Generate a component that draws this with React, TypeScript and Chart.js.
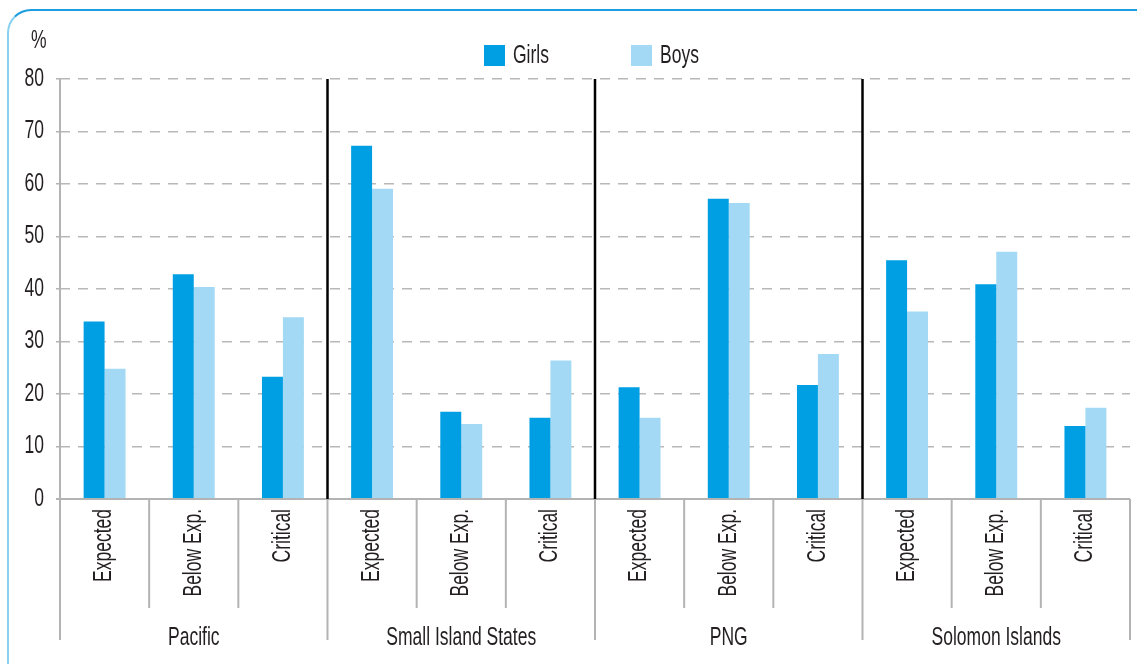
import React, { useEffect, useRef } from "react";
import { Chart, registerables } from "chart.js";

Chart.register(...registerables);

const groups = ["Pacific", "Small Island States", "PNG", "Solomon Islands"];
const levels = ["Expected", "Below Exp.", "Critical"];
const categories = groups.flatMap((g) => levels.map((l) => `${g}|${l}`));
const girls = [33.8, 42.8, 23.3, 67.3, 16.6, 15.5, 21.3, 57.2, 21.7, 45.5, 40.9, 13.9];
const boys = [24.8, 40.4, 34.6, 59.1, 14.3, 26.4, 15.5, 56.4, 27.6, 35.7, 47.1, 17.4];
const yTicks = [0, 10, 20, 30, 40, 50, 60, 70, 80];
const seriesNames = ["Girls", "Boys"];
const seriesColors = ["#009fe3", "#a3d9f5"];

const FONT = '"Liberation Sans", Arial, sans-serif';
const FSIZE = 25;
const SX = 0.7;
const TEXT = "#231f20";
const GRAY = "#b3b3b3";

function drawText(ctx: any, text: string, x: number, y: number, align: string, rotate = false) {
  ctx.save();
  ctx.translate(x, y);
  if (rotate) ctx.rotate(-Math.PI / 2);
  ctx.scale(SX, 1);
  ctx.font = `${FSIZE}px ${FONT}`;
  ctx.fillStyle = TEXT;
  ctx.textAlign = align;
  ctx.textBaseline = "middle";
  ctx.fillText(text, 0, 0);
  ctx.restore();
}

const overlay = {
  id: "overlay",
  afterDraw(chart: any) {
    const ctx = chart.ctx;
    const xs = chart.scales.x;
    const ys = chart.scales.y;
    const area = chart.chartArea;
    const y0 = ys.getPixelForValue(0);
    const n = categories.length;
    const step = xs.getPixelForValue(1) - xs.getPixelForValue(0);
    const boundary = (i: number) => xs.getPixelForValue(i) - step / 2;
    ctx.save();
    ctx.strokeStyle = GRAY;
    ctx.lineWidth = 2;
    ctx.beginPath();
    ctx.moveTo(area.left - 4, y0);
    ctx.lineTo(area.right, y0);
    ctx.moveTo(area.left, area.top);
    ctx.lineTo(area.left, y0);
    ctx.stroke();
    for (let i = 0; i <= n; i++) {
      const x = i === n ? boundary(n - 1) + step : boundary(i);
      const isGroup = i % 3 === 0;
      ctx.beginPath();
      ctx.moveTo(x, y0);
      ctx.lineTo(x, isGroup ? y0 + 141 : y0 + 109);
      ctx.stroke();
    }
    ctx.strokeStyle = "#000";
    ctx.lineWidth = 2.5;
    for (let i = 3; i < n; i += 3) {
      const x = boundary(i);
      ctx.beginPath();
      ctx.moveTo(x, area.top);
      ctx.lineTo(x, y0);
      ctx.stroke();
    }
    // y tick labels
    for (const v of yTicks) {
      drawText(ctx, String(v), area.left - 16, ys.getPixelForValue(v), "right");
    }
    // category labels
    for (let i = 0; i < n; i++) {
      drawText(ctx, levels[i % 3], xs.getPixelForValue(i), y0 + 10, "right", true);
    }
    for (let g = 0; g < groups.length; g++) {
      drawText(ctx, groups[g], xs.getPixelForValue(g * 3 + 1), y0 + 139, "center");
    }
    drawText(ctx, "%", 31, 41, "left");
    const legendX = [484, 631];
    for (let s = 0; s < seriesNames.length; s++) {
      ctx.fillStyle = seriesColors[s];
      ctx.fillRect(legendX[s], 45, 21, 21);
      drawText(ctx, seriesNames[s], legendX[s] + 29, 56, "left");
    }
    ctx.restore();
  },
};

export default function App() {
  const ref = useRef<HTMLCanvasElement>(null);
  useEffect(() => {
    if (!ref.current) return;
    const chart = new Chart(ref.current, {
      type: "bar",
      data: {
        labels: categories,
        datasets: [
          { label: seriesNames[0], data: girls, backgroundColor: seriesColors[0], categoryPercentage: 0.47, barPercentage: 1 },
          { label: seriesNames[1], data: boys, backgroundColor: seriesColors[1], categoryPercentage: 0.47, barPercentage: 1 },
        ],
      },
      options: {
        responsive: false,
        animation: false,
        layout: { padding: { left: 0, right: 7, top: 79, bottom: 165 } },
        plugins: { legend: { display: false }, tooltip: { enabled: false } },
        scales: {
          x: { display: false },
          y: {
            min: 0,
            max: 80,
            afterFit: (s: any) => {
              s.width = 60;
            },
            afterBuildTicks: (s: any) => {
              s.ticks = yTicks.map((v) => ({ value: v }));
            },
            ticks: { display: false },
            grid: { color: "#b8b8b8", lineWidth: 1.5, tickLength: 4, drawTicks: true, tickColor: GRAY },
            border: { display: false, dash: [10, 8] },
          },
        },
      },
      plugins: [overlay],
    });
    return () => chart.destroy();
  }, []);
  return (
    <div style={{ position: "absolute", left: 0, top: 0, width: 1137, height: 664, overflow: "hidden", background: "#fff" }}>
      <div
        style={{
          position: "absolute",
          left: 7,
          top: 9,
          width: 1160,
          height: 700,
          borderTop: "2px solid #1b9de0",
          borderLeft: "2px solid #86d0f2",
          borderTopLeftRadius: 24,
          boxSizing: "border-box",
        }}
      />
      <canvas ref={ref} width={1137} height={664} style={{ position: "absolute", left: 0, top: 0, display: "block" }} />
    </div>
  );
}
